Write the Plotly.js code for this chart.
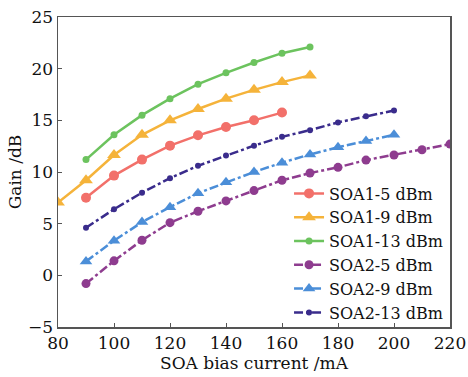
<!DOCTYPE html>
<html><head><meta charset="utf-8">
<script src="https://cdn.plot.ly/plotly-3.0.1.min.js"></script>
<style>html,body{margin:0;padding:0;background:#fff}#c{width:468px;height:377px}</style>
</head><body><div id="c"></div>
<script>
const x1_5 = [90,100,110,120,130,140,150,160];
const y1_5 = [7.5,9.65,11.2,12.55,13.55,14.35,15.0,15.75];
const x1_9 = [80,90,100,110,120,130,140,150,160,170];
const y1_9 = [7.05,9.2,11.65,13.6,15.0,16.1,17.1,17.95,18.7,19.35];
const x1_13 = [90,100,110,120,130,140,150,160,170];
const y1_13 = [11.2,13.6,15.5,17.1,18.5,19.6,20.6,21.5,22.1];
const x2_5 = [90,100,110,120,130,140,150,160,170,180,190,200,210,220];
const y2_5 = [-0.8,1.4,3.4,5.1,6.2,7.2,8.2,9.2,9.9,10.45,11.15,11.65,12.15,12.7];
const x2_9 = [90,100,110,120,130,140,150,160,170,180,190,200];
const y2_9 = [1.35,3.35,5.15,6.6,7.95,9.0,10.0,10.9,11.7,12.4,13.0,13.6];
const x2_13 = [90,100,110,120,130,140,150,160,170,180,190,200];
const y2_13 = [4.6,6.4,8.0,9.4,10.6,11.6,12.55,13.4,14.05,14.8,15.4,15.95];
const names = ["SOA1-5 dBm","SOA1-9 dBm","SOA1-13 dBm","SOA2-5 dBm","SOA2-9 dBm","SOA2-13 dBm"];
const xTicks = [80,100,120,140,160,180,200,220];
const yTicks = [-5,0,5,10,15,20,25];

function tr(x,y,name,color,dash,sym,size){
  return {x:x,y:y,name:name,type:'scatter',mode:'lines+markers',
    line:{color:color,width:2.5,dash:dash},
    marker:{color:color,symbol:sym,size:size}};
}
const data = [
  tr(x1_5,y1_5,names[0],'#f2706a','solid','circle',10),
  tr(x1_9,y1_9,names[1],'#f5b33a','solid','triangle-up',12),
  tr(x1_13,y1_13,names[2],'#6cc35e','solid','circle',7),
  tr(x2_5,y2_5,names[3],'#8e3c8f','dashdot','circle',9),
  tr(x2_9,y2_9,names[4],'#4b8ed8','dashdot','triangle-up',11),
  tr(x2_13,y2_13,names[5],'#3a2c8c','dashdot','circle',6)
];
const fam = '"DejaVu Serif", "Liberation Serif", serif';
const fnt = {family:fam, size:17, color:'#111'};
const layout = {
  width:468,height:377,
  margin:{l:58,r:18,t:17,b:50},
  paper_bgcolor:'#fff',plot_bgcolor:'#fff',
  font:fnt,
  showlegend:true,
  legend:{x:0.995,xanchor:'right',y:-0.008,yanchor:'bottom',bgcolor:'rgba(0,0,0,0)',
    font:{family:fam,size:16,color:'#111'},tracegroupgap:0,itemwidth:30},
  xaxis:{range:[80,220],tickvals:xTicks,ticktext:xTicks.map(String),ticks:'inside',ticklen:4,
    showgrid:false,zeroline:false,showline:true,mirror:true,linecolor:'#555',linewidth:1.5,
    tickcolor:'#555',tickfont:fnt,
    title:{text:'SOA bias current /mA',font:fnt,standoff:0}},
  yaxis:{range:[-5,25],tickvals:yTicks,ticktext:yTicks.map(v=>v<0?'\u2212'+Math.abs(v):String(v)),ticks:'inside',ticklen:4,
    showgrid:false,zeroline:false,showline:true,mirror:true,linecolor:'#555',linewidth:1.5,
    tickcolor:'#555',tickfont:fnt,
    title:{text:'Gain /dB',font:fnt,standoff:2}}
};
Plotly.newPlot('c',data,layout,{displayModeBar:false,staticPlot:true});
</script></body></html>
